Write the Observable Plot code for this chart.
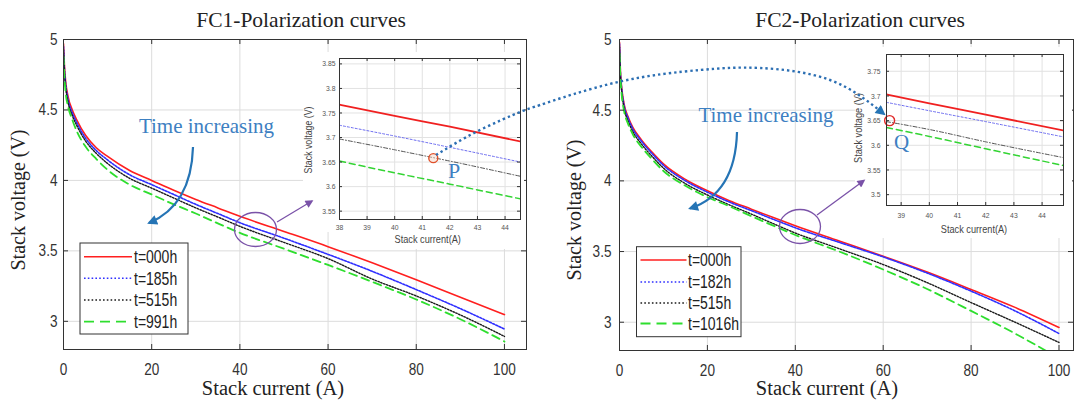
<!DOCTYPE html>
<html><head><meta charset="utf-8">
<script src="https://cdn.jsdelivr.net/npm/d3@7"></script>
<script src="https://cdn.jsdelivr.net/npm/@observablehq/plot@0.6"></script>
<style>
body{margin:0;background:#fff;}
#wrap{position:relative;width:1074px;height:403px;overflow:hidden;background:#fff;}
</style></head><body><div id="wrap"></div>
<script>
// ---------------- data ----------------
const current = [0, 0.2, 0.5, 1, 2, 3, 5, 7.5, 10, 15, 20, 25, 30, 35, 40, 50, 60, 70, 80, 90, 100];

const fc1Labels = ["t=000h", "t=185h", "t=515h", "t=991h"];
const fc1_t000 = [4.97, 4.82, 4.70, 4.60, 4.50, 4.43, 4.32, 4.23, 4.17, 4.07, 4.00, 3.93, 3.865, 3.805, 3.745, 3.638, 3.53, 3.415, 3.295, 3.17, 3.048];
const fc1_t185 = [4.95, 4.80, 4.68, 4.58, 4.48, 4.41, 4.30, 4.21, 4.145, 4.04, 3.97, 3.90, 3.83, 3.765, 3.70, 3.59, 3.475, 3.355, 3.225, 3.09, 2.945];
const fc1_t515 = [4.93, 4.78, 4.66, 4.56, 4.46, 4.39, 4.28, 4.19, 4.12, 4.015, 3.945, 3.875, 3.805, 3.74, 3.674, 3.56, 3.445, 3.30, 3.18, 3.045, 2.893];
const fc1_t991 = [4.88, 4.74, 4.62, 4.53, 4.43, 4.35, 4.24, 4.15, 4.075, 3.97, 3.90, 3.83, 3.765, 3.695, 3.628, 3.515, 3.40, 3.28, 3.155, 3.015, 2.857];

const fc2Labels = ["t=000h", "t=182h", "t=515h", "t=1016h"];
const fc2_t000 = [4.98, 4.78, 4.66, 4.55, 4.45, 4.38, 4.29, 4.20, 4.12, 4.01, 3.93, 3.86, 3.80, 3.74, 3.683, 3.575, 3.467, 3.355, 3.232, 3.105, 2.963];
const fc2_t182 = [4.97, 4.77, 4.65, 4.54, 4.44, 4.37, 4.28, 4.19, 4.11, 4.00, 3.92, 3.85, 3.79, 3.728, 3.668, 3.565, 3.462, 3.348, 3.22, 3.08, 2.92];
const fc2_t515 = [4.95, 4.76, 4.63, 4.52, 4.42, 4.35, 4.26, 4.17, 4.09, 3.98, 3.90, 3.83, 3.765, 3.697, 3.631, 3.52, 3.408, 3.28, 3.139, 3.00, 2.857];
const fc2_t1016 = [4.90, 4.74, 4.61, 4.50, 4.40, 4.33, 4.24, 4.15, 4.07, 3.965, 3.885, 3.82, 3.75, 3.683, 3.617, 3.50, 3.373, 3.235, 3.08, 2.92, 2.745];

// zoomed insets
const inset1_current = [38, 40, 42, 44.56];
const inset1_t000 = [3.767, 3.744, 3.722, 3.692];
const inset1_t185 = [3.725, 3.703, 3.680, 3.650];
const inset1_t515 = [3.697, 3.675, 3.652, 3.621];
const inset1_t991 = [3.652, 3.628, 3.605, 3.575];
const pointP = [41.4, 3.658];

const inset2_current = [38.48, 40, 42, 44.76];
const inset2_t000 = [3.703, 3.685, 3.662, 3.630];
const inset2_t182 = [3.687, 3.670, 3.648, 3.617];
const inset2_t515 = [3.648, 3.632, 3.607, 3.575];
const inset2_t1016 = [3.636, 3.618, 3.593, 3.559];
const pointQ = [38.59, 3.650];

const mainXTicks = [0, 20, 40, 60, 80, 100];
const mainYTicks = [3, 3.5, 4, 4.5, 5];
const inset1XTicks = [38, 39, 40, 41, 42, 43, 44];
const inset1YTicks = [3.55, 3.6, 3.65, 3.7, 3.75, 3.8, 3.85];
const inset2XTicks = [39, 40, 41, 42, 43, 44];
const inset2YTicks = [3.5, 3.55, 3.6, 3.65, 3.7, 3.75];

// ---------------- styles ----------------
const mainStyles = [
  {color: "#ff1f1f", w: 1.6},
  {color: "#2f2fff", w: 1.6, dash: "2,1.5"},
  {color: "#1a1a1a", w: 1.4, dash: "1.5,1.5"},
  {color: "#2ede2e", w: 1.8, dash: "8,5"}
];
const insetStyles = [
  {color: "#f02020", w: 1.8},
  {color: "#6a6af0", w: 1, dash: "2,2"},
  {color: "#555555", w: 1, dash: "4,2,1,2"},
  {color: "#33d433", w: 1.5, dash: "6,4"}
];
const SANS = "'Liberation Sans', Arial, sans-serif";
const SERIF = "'Liberation Serif', 'Times New Roman', serif";

const wrap = document.getElementById("wrap");
function place(el, left, top, z) {
  el.style.position = "absolute";
  el.style.left = left + "px";
  el.style.top = top + "px";
  el.style.zIndex = z;
  el.style.overflow = "visible";
  wrap.appendChild(el);
}
function condense(svg, k) {
  svg.querySelectorAll("text").forEach(t => {
    const tr = t.getAttribute("transform") || "";
    t.setAttribute("transform", (tr + ` scale(${k},1)`).trim());
  });
}

function chart({xs, series, styles, xDomain, yDomain, xTicks, yTicks, width, height, ml, mr, mt, mb,
                fontSize, padX, padY, tick, grid, bg, extra = []}) {
  const pw = width - ml - mr, ph = height - mt - mb;
  const marks = [
    Plot.ruleX(xTicks, {stroke: grid}),
    Plot.ruleY(yTicks, {stroke: grid})
  ];
  series.forEach((vals, k) => {
    const rows = xs.map((c, i) => ({I: c, V: vals[i]}));
    const st = styles[k];
    marks.push(Plot.line(rows, {x: "I", y: "V", stroke: st.color, strokeWidth: st.w,
      strokeDasharray: st.dash, curve: "monotone-x", clip: true}));
  });
  marks.push(
    Plot.ruleX(xTicks, {stroke: "#333", insetTop: ph - tick}),
    Plot.ruleX(xTicks, {stroke: "#333", insetBottom: ph - tick}),
    Plot.ruleY(yTicks, {stroke: "#333", insetRight: pw - tick}),
    Plot.ruleY(yTicks, {stroke: "#333", insetLeft: pw - tick}),
    ...extra,
    Plot.frame({stroke: "#333"})
  );
  return Plot.plot({
    width, height, marginLeft: ml, marginRight: mr, marginTop: mt, marginBottom: mb,
    x: {domain: xDomain, ticks: xTicks, tickSize: 0, tickPadding: padX, label: null, tickFormat: d => String(d)},
    y: {domain: yDomain, ticks: yTicks, tickSize: 0, tickPadding: padY, label: null, tickFormat: d => String(d)},
    style: {fontFamily: SANS, fontSize: fontSize + "px", color: "#333", background: bg, overflow: "visible"},
    marks
  });
}

// main charts
const left = chart({xs: current, series: [fc1_t000, fc1_t185, fc1_t515, fc1_t991], styles: mainStyles,
  xDomain: [0, 105], yDomain: [2.8, 5], xTicks: mainXTicks, yTicks: mainYTicks,
  width: 540, height: 403, ml: 63, mr: 14, mt: 39, mb: 54, fontSize: 17, padX: 13, padY: 6, tick: 5,
  grid: "#dcdcdc", bg: "white"});
condense(left, 0.8);
place(left, 0, 0, 1);

const right = chart({xs: current, series: [fc2_t000, fc2_t182, fc2_t515, fc2_t1016], styles: mainStyles,
  xDomain: [0, 103.3], yDomain: [2.8, 5], xTicks: mainXTicks, yTicks: mainYTicks,
  width: 534, height: 403, ml: 79, mr: 1, mt: 39, mb: 53, fontSize: 17, padX: 13, padY: 8, tick: 5,
  grid: "#dcdcdc", bg: "white"});
condense(right, 0.8);
place(right, 540, 0, 1);

// white backgrounds of the pasted insets
const mask = d3.create("svg").attr("width", 1074).attr("height", 403);
mask.append("path").attr("fill", "white")
  .attr("d", "M303,52 L524,52 L524,249 L346,249 L346,232 L303,232 Z");
mask.append("path").attr("fill", "white")
  .attr("d", "M855,47 L1072,47 L1072,238 L855,238 Z");
place(mask.node(), 0, 0, 2);

// insets
const inset1 = chart({xs: inset1_current, series: [inset1_t000, inset1_t185, inset1_t515, inset1_t991], styles: insetStyles,
  xDomain: [38, 44.56], yDomain: [3.533, 3.861], xTicks: inset1XTicks, yTicks: inset1YTicks,
  width: 225, height: 200, ml: 39, mr: 5, mt: 8, mb: 31, fontSize: 8, padX: 5, padY: 4, tick: 3,
  grid: "#e2e2e2", bg: "transparent",
  extra: [Plot.dot([pointP], {x: d => d[0], y: d => d[1], r: 4.5, stroke: "#e0502a", strokeWidth: 1.4, fill: "#f8d8c8", fillOpacity: 0.5})]});
condense(inset1, 0.85);
inset1.querySelectorAll("text").forEach(t => t.setAttribute("fill", "#555"));
place(inset1, 300, 50, 3);

const inset2 = chart({xs: inset2_current, series: [inset2_t000, inset2_t182, inset2_t515, inset2_t1016], styles: insetStyles,
  xDomain: [38.48, 44.76], yDomain: [3.478, 3.784], xTicks: inset2XTicks, yTicks: inset2YTicks,
  width: 224, height: 200, ml: 36, mr: 11, mt: 9, mb: 40, fontSize: 8, padX: 7, padY: 6, tick: 3,
  grid: "#e2e2e2", bg: "transparent",
  extra: [Plot.dot([pointQ], {x: d => d[0], y: d => d[1], r: 5, stroke: "#e02a2a", strokeWidth: 1.4, fill: "none"})]});
condense(inset2, 0.85);
inset2.querySelectorAll("text").forEach(t => t.setAttribute("fill", "#555"));
place(inset2, 850, 45, 3);

// overlay: titles, labels, legends, annotations
const arcPts = [[436,155],[478,131],[520,112],[540,105],[618,82],[700,70],[760,68],[830,80],[884,114]];
const arcPath = d3.line().curve(d3.curveNatural)(arcPts);

function legend(x, y, w, h, x1, x2, tx, ys, labels) {
  let s = `<rect x="${x}" y="${y}" width="${w}" height="${h}" fill="white" stroke="#333" stroke-width="1"/>`;
  labels.forEach((lab, k) => {
    const st = mainStyles[k];
    s += `<line x1="${x1}" x2="${x2}" y1="${ys[k]}" y2="${ys[k]}" stroke="${st.color}" stroke-width="${k===3?1.8:1.6}" ${k===3?'stroke-dasharray="10,6"':(st.dash?'stroke-dasharray="1.6,2.2"':'')}/>`;
    s += `<text transform="translate(${tx},${ys[k] + 6.3}) scale(0.8,1)" font-family="${SANS}" font-size="17.5" fill="#222">${lab}</text>`;
  });
  return s;
}

const ov = `
<svg xmlns="http://www.w3.org/2000/svg" width="1074" height="403">
<defs>
 <marker id="ahB" viewBox="0 0 10 10" refX="8" refY="5" markerWidth="12" markerHeight="10" markerUnits="userSpaceOnUse" orient="auto"><path d="M0,0 L10,5 L0,10 z" fill="#2574b5"/></marker>
 <marker id="ahP" viewBox="0 0 10 10" refX="8" refY="5" markerWidth="10" markerHeight="8" markerUnits="userSpaceOnUse" orient="auto"><path d="M0,0 L10,5 L0,10 z" fill="#7a52a8"/></marker>
</defs>
<g font-family="${SERIF}" fill="#222">
 <text x="301" y="26.5" font-size="21.5" text-anchor="middle">FC1-Polarization curves</text>
 <text x="860" y="26.5" font-size="21.5" text-anchor="middle">FC2-Polarization curves</text>
 <text transform="translate(24.5,200) rotate(-90)" font-size="20" text-anchor="middle">Stack voltage (V)</text>
 <text transform="translate(581,210) rotate(-90)" font-size="20" text-anchor="middle">Stack voltage (V)</text>
 <text x="273" y="395" font-size="20.5" text-anchor="middle">Stack current (A)</text>
 <text x="827" y="395" font-size="20.5" text-anchor="middle">Stack current (A)</text>
</g>
<g font-family="${SANS}" fill="#444" font-size="10">
 <text transform="translate(312,140) rotate(-90) scale(0.88,1)" text-anchor="middle">Stack voltage (V)</text>
 <text transform="translate(427.7,243) scale(0.92,1)" text-anchor="middle">Stack current(A)</text>
 <text transform="translate(862,128) rotate(-90) scale(0.92,1)" text-anchor="middle">Stack voltage (V)</text>
 <text transform="translate(974,233) scale(0.92,1)" text-anchor="middle">Stack current(A)</text>
</g>
<g font-family="${SERIF}" fill="#3d80c2">
 <text x="206.5" y="133" font-size="21" text-anchor="middle">Time increasing</text>
 <text x="766" y="121.5" font-size="21" text-anchor="middle">Time increasing</text>
 <text x="454" y="178" font-size="22" text-anchor="middle">P</text>
 <text x="901.7" y="149" font-size="21" text-anchor="middle">Q</text>
</g>
<path d="M193,147 C192,182 180,210 149,223" fill="none" stroke="#2574b5" stroke-width="2.2" marker-end="url(#ahB)"/>
<path d="M737,132 C736,170 722,198 690,208.5" fill="none" stroke="#2574b5" stroke-width="2.2" marker-end="url(#ahB)"/>
<path d="${arcPath}" fill="none" stroke="#2c6fb3" stroke-width="2.4" stroke-dasharray="2.4,3" marker-end="url(#ahB)"/>
<ellipse cx="255.5" cy="229.5" rx="21" ry="17" fill="none" stroke="#7a52a8" stroke-width="1.3"/>
<line x1="277" y1="222" x2="312" y2="201" stroke="#7a52a8" stroke-width="1.3" marker-end="url(#ahP)"/>
<ellipse cx="800" cy="226.5" rx="20.5" ry="17" fill="none" stroke="#7a52a8" stroke-width="1.3"/>
<line x1="817" y1="215" x2="864" y2="180.5" stroke="#7a52a8" stroke-width="1.3" marker-end="url(#ahP)"/>
${legend(80, 243, 108, 91, 84, 132, 134, [256.7, 278.3, 300, 321.7], fc1Labels)}
${legend(636.5, 246.7, 104.5, 90, 640.5, 686.5, 688, [260, 282, 303, 323.5], fc2Labels)}
</svg>`;
const holder = document.createElement("div");
holder.innerHTML = ov.trim();
const ovSvg = holder.firstChild;
place(ovSvg, 0, 0, 4);
</script>
</body></html>
